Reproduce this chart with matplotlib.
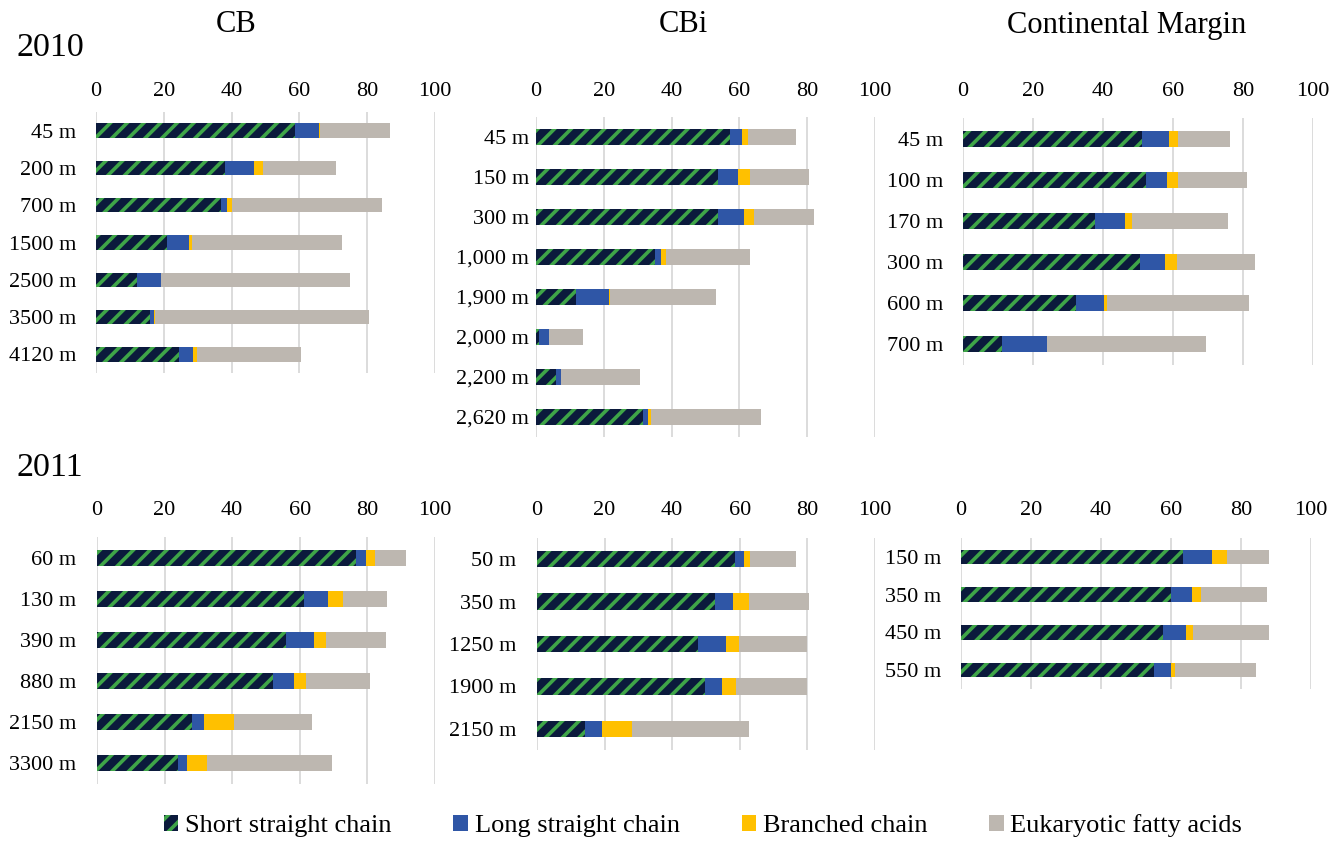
import numpy as np
import matplotlib
matplotlib.use('Agg')
import matplotlib.pyplot as plt
from matplotlib.patches import Patch

plt.rcParams['font.family'] = ['Liberation Serif', 'DejaVu Serif']
plt.rcParams['hatch.linewidth'] = 2.6

# series names and colours
series = ['Short straight chain', 'Long straight chain', 'Branched chain', 'Eukaryotic fatty acids']
navy = '#0b1a3c'
stripe = '#3fa548'
blue = '#2f56a6'
yellow = '#ffc000'
grey = '#bdb7b0'

# 2010 - CB
cb10_depth = ['45 m', '200 m', '700 m', '1500 m', '2500 m', '3500 m', '4120 m']
cb10_short = [58.7, 38.1, 36.9, 20.8, 12.2, 16.0, 24.4]
cb10_long = [7.0, 8.6, 1.6, 6.5, 7.0, 1.1, 4.3]
cb10_branch = [0.5, 2.6, 1.7, 1.0, 0.0, 0.4, 1.1]
cb10_euk = [20.5, 21.5, 44.3, 44.4, 55.7, 63.0, 30.8]

# 2010 - CBi
cbi10_depth = ['45 m', '150 m', '300 m', '1,000 m', '1,900 m', '2,000 m', '2,200 m', '2,620 m']
cbi10_short = [57.3, 53.8, 53.8, 35.2, 11.7, 0.9, 6.0, 31.7]
cbi10_long = [3.4, 5.7, 7.6, 1.6, 9.8, 2.9, 1.3, 1.2]
cbi10_branch = [1.8, 3.6, 3.0, 1.6, 0.4, 0.0, 0.0, 1.1]
cbi10_euk = [14.2, 17.3, 17.5, 24.8, 31.3, 10.2, 23.4, 32.4]

# 2010 - Continental Margin
cm10_depth = ['45 m', '100 m', '170 m', '300 m', '600 m', '700 m']
cm10_short = [51.2, 52.3, 37.6, 50.5, 32.4, 11.1]
cm10_long = [7.7, 6.0, 8.7, 7.3, 7.9, 12.9]
cm10_branch = [2.6, 3.2, 2.0, 3.4, 0.8, 0.0]
cm10_euk = [14.9, 19.7, 27.5, 22.2, 40.7, 45.5]

# 2011 - CB
cb11_depth = ['60 m', '130 m', '390 m', '880 m', '2150 m', '3300 m']
cb11_short = [76.7, 61.1, 56.0, 52.0, 28.1, 24.0]
cb11_long = [3.0, 7.1, 8.2, 6.4, 3.7, 2.6]
cb11_branch = [2.6, 4.5, 3.5, 3.5, 8.7, 5.8]
cb11_euk = [9.2, 13.2, 17.7, 18.8, 23.1, 37.2]

# 2011 - CBi
cbi11_depth = ['50 m', '350 m', '1250 m', '1900 m', '2150 m']
cbi11_short = [58.5, 52.8, 47.6, 49.8, 14.3]
cbi11_long = [2.7, 5.1, 8.4, 4.9, 4.9]
cbi11_branch = [1.9, 4.9, 3.9, 4.1, 8.8]
cbi11_euk = [13.6, 17.6, 19.9, 21.1, 34.6]

# 2011 - Continental Margin
cm11_depth = ['150 m', '350 m', '450 m', '550 m']
cm11_short = [63.3, 59.9, 57.8, 55.2]
cm11_long = [8.3, 6.2, 6.4, 4.7]
cm11_branch = [4.3, 2.4, 2.2, 1.1]
cm11_euk = [12.0, 18.8, 21.5, 23.2]

W, H = 1344, 841
fig = plt.figure(figsize=(W / 100, H / 100), dpi=100)


def px_axes(x0, x1, y0, y1):
    return fig.add_axes([x0 / W, 1 - y1 / H, (x1 - x0) / W, (y1 - y0) / H])


def panel(ax, depth, short, long_, branch, euk, top_px, label_y, ypad):
    y = np.arange(len(depth))
    h = 0.39
    ax.barh(y, short, height=h, color=navy, edgecolor=stripe, hatch='//', linewidth=0)
    left = np.array(short)
    ax.barh(y, long_, left=left, height=h, color=blue, linewidth=0)
    left = left + np.array(long_)
    ax.barh(y, branch, left=left, height=h, color=yellow, linewidth=0)
    left = left + np.array(branch)
    ax.barh(y, euk, left=left, height=h, color=grey, linewidth=0)

    ax.set_xlim(0, 100)
    ax.set_ylim(len(depth) - 0.5, -0.5)
    ax.set_xticks(np.arange(0, 101, 20))
    ax.set_yticks(y)
    ax.set_yticklabels(depth)
    ax.xaxis.tick_top()
    ax.grid(axis='x', color='#d9d9d9', linewidth=1.3)
    ax.set_axisbelow(True)
    for s in ax.spines.values():
        s.set_visible(False)
    xpad = (top_px - label_y - 9) * 0.72
    ax.tick_params(axis='x', length=0, labelsize=16, pad=xpad)
    ax.tick_params(axis='y', length=0, labelsize=16, pad=ypad)


ax1 = px_axes(96, 435, 112, 373)
panel(ax1, cb10_depth, cb10_short, cb10_long, cb10_branch, cb10_euk, 112, 92, 14)
ax2 = px_axes(536, 875, 117, 437)
panel(ax2, cbi10_depth, cbi10_short, cbi10_long, cbi10_branch, cbi10_euk, 117, 92, 5)
ax3 = px_axes(963, 1313, 118, 365)
panel(ax3, cm10_depth, cm10_short, cm10_long, cm10_branch, cm10_euk, 118, 92, 14)

ax4 = px_axes(97, 435, 537, 784)
panel(ax4, cb11_depth, cb11_short, cb11_long, cb11_branch, cb11_euk, 537, 511, 15)
ax5 = px_axes(537, 875, 538, 750)
panel(ax5, cbi11_depth, cbi11_short, cbi11_long, cbi11_branch, cbi11_euk, 538, 511, 15)
ax6 = px_axes(961, 1311, 538, 689)
panel(ax6, cm11_depth, cm11_short, cm11_long, cm11_branch, cm11_euk, 538, 511, 14)

# column titles and year labels
fig.text(236 / W, 1 - 25 / H, 'CB', fontsize=22, ha='center', va='center')
fig.text(683 / W, 1 - 25 / H, 'CBi', fontsize=22, ha='center', va='center')
fig.text(1127 / W, 1 - 25 / H, 'Continental Margin', fontsize=22, ha='center', va='center')
fig.text(17 / W, 1 - 48 / H, '2010', fontsize=24.5, ha='left', va='center')
fig.text(17 / W, 1 - 468 / H, '2011', fontsize=24.5, ha='left', va='center')

handles = [
    Patch(facecolor=navy, edgecolor=stripe, hatch='//', linewidth=0, label=series[0]),
    Patch(facecolor=blue, linewidth=0, label=series[1]),
    Patch(facecolor=yellow, linewidth=0, label=series[2]),
    Patch(facecolor=grey, linewidth=0, label=series[3]),
]
fig.legend(handles=handles, loc='center', bbox_to_anchor=(703 / W, 1 - 826 / H), ncol=4,
           frameon=False, fontsize=19, handlelength=0.55, handleheight=0.55,
           handletextpad=0.25, columnspacing=2.35)

fig.savefig('out.png', dpi=100)
